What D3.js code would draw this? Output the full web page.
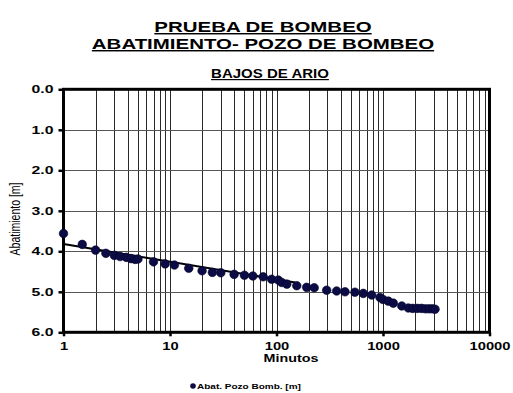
<!DOCTYPE html>
<html>
<head>
<meta charset="utf-8">
<script src="https://cdn.jsdelivr.net/npm/d3@7"></script>
<style>
  html, body { margin: 0; padding: 0; background: #fff; }
  svg { display: block; }
  text { font-family: "Liberation Sans", Arial, Helvetica, sans-serif; }
</style>
</head>
<body>
<svg id="chart" width="513" height="393"></svg>
<script>
// Drawdown at the pumping well (time in minutes, drawdown in metres)
const tiempos = [1, 1.5, 2, 2.5, 3, 3.4, 3.9, 4.3, 4.7, 5, 7, 9, 11, 15, 20, 25, 30, 40, 50, 60, 75, 90, 104,
  112, 125, 155, 192, 226, 296, 367, 440, 545, 653, 783, 937, 1000, 1122, 1250, 1500, 1730,
  1900, 2100, 2300, 2500, 2700, 2900, 3080];
const abatimiento = [3.56, 3.83, 3.97, 4.05, 4.10, 4.13, 4.15, 4.18, 4.20, 4.19, 4.26, 4.31, 4.34, 4.42, 4.48, 4.52, 4.53, 4.57, 4.59, 4.61, 4.63, 4.69, 4.71,
  4.77, 4.81, 4.85, 4.89, 4.90, 4.96, 4.98, 5.00, 5.01, 5.04, 5.08, 5.14, 5.19, 5.23, 5.28, 5.35, 5.40,
  5.41, 5.41, 5.41, 5.42, 5.42, 5.42, 5.43];

// Straight-line fit on the semi-log plot (early-time)
const ajusteT = [1, 150];
const ajusteV = [3.82, 4.77];

const yTicks = [0, 1, 2, 3, 4, 5, 6];
const xTicks = [1, 10, 100, 1000, 10000];

const titulo1 = "PRUEBA DE BOMBEO";
const titulo2 = "ABATIMIENTO- POZO DE BOMBEO";
const subtitulo = "BAJOS DE ARIO";
const ejeX = "Minutos";
const ejeY = "Abatimiento [m]";
const leyenda = "Abat. Pozo Bomb. [m]";

const svg = d3.select("#chart");
const L = 63.5, R = 489.5, T = 89.3, B = 332.3;

const x = d3.scaleLog().domain([1, 10000]).range([L, R]);
const y = d3.scaleLinear().domain([0, 6]).range([T, B]);

// Horizontally widened lettering
function widen(sel, f) {
  sel.each(function () {
    const len = this.getComputedTextLength();
    d3.select(this).attr("textLength", len * f).attr("lengthAdjust", "spacingAndGlyphs");
  });
}

// Vertical log grid (every 1..9 within each decade)
const xGrid = [];
for (let d = 1; d < 10000; d *= 10) for (let k = 1; k < 10; k++) xGrid.push(d * k);
svg.append("g").selectAll("line").data(xGrid.filter(v => v > 1)).join("line")
  .attr("x1", d => Math.round(x(d)) + 0.5).attr("x2", d => Math.round(x(d)) + 0.5)
  .attr("y1", T).attr("y2", B)
  .attr("stroke", "#2a2a2a").attr("stroke-width", 1);

// Horizontal grid
svg.append("g").selectAll("line").data(yTicks.slice(1, -1)).join("line")
  .attr("x1", L).attr("x2", R)
  .attr("y1", d => Math.round(y(d)) + 0.5).attr("y2", d => Math.round(y(d)) + 0.5)
  .attr("stroke", "#555").attr("stroke-width", 1);

// Frame
svg.append("rect").attr("x", L).attr("y", T).attr("width", R - L).attr("height", B - T)
  .attr("fill", "none").attr("stroke", "#000").attr("stroke-width", 3);

// Y axis
const yAxis = d3.axisLeft(y).tickValues(yTicks).tickFormat(d3.format(".1f")).tickSize(5).tickPadding(5);
const gy = svg.append("g").attr("transform", `translate(${L},0)`).call(yAxis);
gy.select(".domain").remove();
gy.selectAll(".tick line").attr("stroke", "#000").attr("stroke-width", 2.5);
gy.selectAll(".tick text").attr("font-size", 10.5).attr("font-weight", "bold").attr("fill", "#000")
  .attr("font-family", "Liberation Sans, Arial, sans-serif");
widen(gy.selectAll(".tick text"), 1.5);

// X axis
const xAxis = d3.axisBottom(x).tickValues(xTicks).tickFormat(d3.format("d")).tickSize(4).tickPadding(6);
const gx = svg.append("g").attr("transform", `translate(0,${B})`).call(xAxis);
gx.select(".domain").remove();
gx.selectAll(".tick line").attr("stroke", "#000").attr("stroke-width", 2.5);
gx.selectAll(".tick text").attr("font-size", 10.5).attr("font-weight", "bold").attr("fill", "#000")
  .attr("font-family", "Liberation Sans, Arial, sans-serif");
widen(gx.selectAll(".tick text"), 1.4);

// Fitted line
svg.append("path")
  .datum(ajusteT.map((t, i) => [t, ajusteV[i]]))
  .attr("d", d3.line().x(d => x(d[0])).y(d => y(d[1])))
  .attr("fill", "none").attr("stroke", "#000").attr("stroke-width", 2);

// Observed drawdown
const pts = tiempos.map((t, i) => ({ t, v: abatimiento[i] }));
svg.append("g").selectAll("circle").data(pts).join("circle")
  .attr("cx", d => x(d.t)).attr("cy", d => y(d.v)).attr("r", 4.3)
  .attr("fill", "#0b0b45").attr("stroke", "#05052a").attr("stroke-width", 0.6);

// Titles
function titleText(txt, cx, by, size, f) {
  const t = svg.append("text").attr("x", cx).attr("y", by).attr("text-anchor", "middle")
    .attr("font-size", size).attr("font-weight", "bold").attr("fill", "#000")
    .attr("text-decoration", "underline").text(txt);
  widen(t, f);
  return t;
}
titleText(titulo1, 263, 32, 14.5, 1.41);
titleText(titulo2, 263, 49, 14.5, 1.41);
titleText(subtitulo, 270, 78, 12, 1.25);

// Axis titles
const xl = svg.append("text").attr("x", 291).attr("y", 362).attr("text-anchor", "middle")
  .attr("font-size", 11).attr("font-weight", "bold").attr("fill", "#000").text(ejeX);
widen(xl, 1.3);

// Rotated label, widened across the page (local y maps to screen x)
svg.append("text").attr("transform", "translate(20,219) rotate(-90) scale(1,1.35)")
  .attr("text-anchor", "middle").attr("font-size", 10.5).attr("fill", "#000").text(ejeY);

// Legend
svg.append("circle").attr("cx", 193).attr("cy", 386).attr("r", 2.8).attr("fill", "#0b0b45");
const lg = svg.append("text").attr("x", 197).attr("y", 389).attr("font-size", 8)
  .attr("font-weight", "bold").attr("fill", "#000").text(leyenda);
widen(lg, 1.25);
</script>
</body>
</html>
